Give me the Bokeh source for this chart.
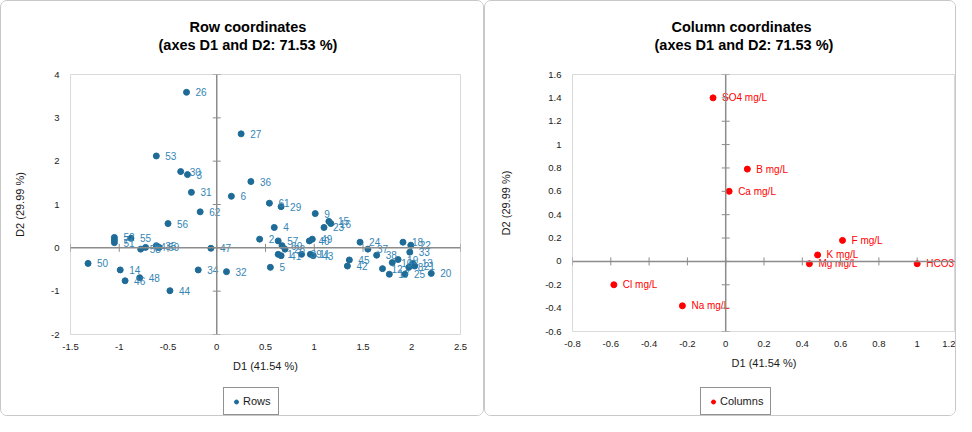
import numpy as np
from bokeh.plotting import figure
from bokeh.layouts import row, column
from bokeh.models import Range1d, FixedTicker, Span, Legend, LegendItem, Title, ColumnDataSource
from bokeh.core.properties import value
from bokeh.embed import file_html
from bokeh.resources import INLINE

# ---------------- data ----------------
row_labels = ["26", "27", "53", "30", "3", "36", "31", "6", "62", "61", "29", "9", "15", "16", "23", "4", "56",
              "52", "7", "51", "55", "58", "54", "35", "59", "47", "50", "14", "46", "48", "44", "34", "32", "5",
              "2", "57", "60", "28", "1", "41", "39", "40", "49", "11", "43",
              "24", "37", "45", "42", "38", "12", "17", "10", "19", "18", "22", "33", "13", "21", "8", "25", "20"]
row_d1 = [-0.31, 0.25, -0.62, -0.37, -0.30, 0.35, -0.26, 0.15, -0.17, 0.54, 0.66, 1.01, 1.15, 1.17, 1.10, 0.59, -0.50,
          -1.05, -1.05, -1.05, -0.88, -0.78, -0.73, -0.62, -0.59, -0.06, -1.32, -0.99, -0.94, -0.79, -0.48, -0.19, 0.10, 0.55,
          0.44, 0.63, 0.67, 0.70, 0.63, 0.66, 0.87, 0.95, 0.98, 0.96, 0.99,
          1.47, 1.55, 1.36, 1.34, 1.64, 1.70, 1.77, 1.80, 1.86, 1.91, 1.99, 1.98, 2.01, 2.03, 1.97, 1.93, 2.20]
row_d2 = [3.59, 2.63, 2.12, 1.76, 1.69, 1.53, 1.28, 1.19, 0.83, 1.03, 0.95, 0.79, 0.61, 0.56, 0.47, 0.47, 0.56,
          0.24, 0.18, 0.12, 0.22, -0.03, 0.01, 0.05, 0.01, -0.01, -0.36, -0.51, -0.76, -0.69, -0.99, -0.51, -0.55, -0.45,
          0.20, 0.16, 0.05, -0.03, -0.15, -0.18, -0.15, 0.16, 0.20, -0.15, -0.18,
          0.13, -0.03, -0.28, -0.42, -0.17, -0.48, -0.61, -0.34, -0.27, 0.13, 0.06, -0.10, -0.36, -0.42, -0.45, -0.61, -0.59]

col_labels = ["SO4 mg/L", "B mg/L", "Ca mg/L", "F mg/L", "K mg/L", "Mg mg/L", "HCO3 mg/L", "Cl mg/L", "Na mg/L"]
col_d1 = [-0.066, 0.113, 0.018, 0.61, 0.48, 0.437, 1.0, -0.584, -0.226]
col_d2 = [1.40, 0.79, 0.60, 0.18, 0.055, -0.02, -0.02, -0.20, -0.38]

row_xticks = [-1.5, -1, -0.5, 0, 0.5, 1, 1.5, 2, 2.5]
row_xtick_labels = ["-1.5", "-1", "-0.5", "0", "0.5", "1", "1.5", "2", "2.5"]
row_yticks = [-2, -1, 0, 1, 2, 3, 4]
row_ytick_labels = ["-2", "-1", "0", "1", "2", "3", "4"]

col_xticks = [-0.8, -0.6, -0.4, -0.2, 0, 0.2, 0.4, 0.6, 0.8, 1, 1.2]
col_xtick_labels = ["-0.8", "-0.6", "-0.4", "-0.2", "0", "0.2", "0.4", "0.6", "0.8", "1", "1.2"]
col_yticks = [-0.6, -0.4, -0.2, 0, 0.2, 0.4, 0.6, 0.8, 1, 1.2, 1.4, 1.6]
col_ytick_labels = ["-0.6", "-0.4", "-0.2", "0", "0.2", "0.4", "0.6", "0.8", "1", "1.2", "1.4", "1.6"]

title_main = ["Row coordinates", "Column coordinates"]
title_sub = "(axes D1 and D2: 71.53 %)"
x_title = "D1 (41.54 %)"
y_title = "D2 (29.99 %)"

FONT = "Liberation Sans"


def make_panel(main, xs, ys, labels, xticks, xlabels, yticks, ylabels, dot_color, text_color,
               legend_label, width, ml, mr, mb, off_main, off_sub, ylab_standoff, leg_x):
    p = figure(width=width, height=382,
               x_range=Range1d(xticks[0], xticks[-1]), y_range=Range1d(yticks[0], yticks[-1]),
               output_backend="svg", toolbar_location=None,
               min_border_left=ml, min_border_right=mr, min_border_top=73, min_border_bottom=mb)
    p.xgrid.visible = False
    p.ygrid.visible = False
    p.outline_line_color = "#d9d9d9"
    p.outline_line_width = 1
    p.background_fill_color = "white"
    p.border_fill_color = "white"

    # titles: spacer (closest to frame), subtitle, main title (outermost)
    p.title.text = main
    p.title.align = "left"
    p.title.offset = off_main
    p.title.text_font = FONT
    p.title.text_font_size = "14.5px"
    p.title.text_font_style = "bold"
    p.title.text_color = "black"
    p.title.standoff = 0
    spacer = Title(text=" ", align="left", text_font=FONT, text_font_size="1px", standoff=19)
    sub = Title(text=title_sub, align="left", offset=off_sub, text_font=FONT,
                text_font_size="14.5px", text_font_style="bold", text_color="black", standoff=0)
    p.add_layout(spacer, "above")
    p.add_layout(sub, "above")

    for ax, ticks, labs in ((p.xaxis[0], xticks, xlabels), (p.yaxis[0], yticks, ylabels)):
        ax.ticker = FixedTicker(ticks=ticks)
        ax.major_label_overrides = {t: l for t, l in zip(ticks, labs)}
        ax.axis_line_color = None
        ax.major_tick_line_color = None
        ax.minor_tick_line_color = None
        ax.major_tick_in = 0
        ax.major_tick_out = 0
        ax.major_label_text_font = FONT
        ax.major_label_text_font_size = "9.5px"
        ax.major_label_text_color = "#1a1a1a"
        ax.axis_label_text_font = FONT
        ax.axis_label_text_font_size = "11px"
        ax.axis_label_text_font_style = "normal"
        ax.axis_label_text_color = "#1a1a1a"
    p.xaxis.axis_label = x_title
    p.yaxis.axis_label = y_title
    p.xaxis.major_label_standoff = 9
    p.yaxis.major_label_standoff = 11
    p.xaxis.axis_label_standoff = 7
    p.yaxis.axis_label_standoff = ylab_standoff

    # zero axes with crossing ticks
    p.add_layout(Span(location=0, dimension="height", line_color="#8c8c8c", line_width=1.5))
    p.add_layout(Span(location=0, dimension="width", line_color="#8c8c8c", line_width=1.5))
    p.scatter(x=[0] * len(yticks), y=yticks, marker="dash", size=8, line_color="#8c8c8c", line_width=1)
    p.scatter(x=xticks, y=[0] * len(xticks), marker="dash", angle=1.5708, size=8,
              line_color="#8c8c8c", line_width=1)

    src = ColumnDataSource(dict(x=xs, y=ys, t=labels))
    p.scatter("x", "y", source=src, size=6, fill_color=dot_color, line_color=dot_color)
    p.text("x", "y", text="t", source=src, x_offset=9, text_baseline="middle",
           text_font=value(FONT), text_font_size="10px", text_color=text_color)

    # legend strip under the chart (its swatch renderer holds no visible point)
    lf = figure(width=width, height=32, x_range=Range1d(0, 1), y_range=Range1d(0, 1),
                output_backend="svg", toolbar_location=None,
                x_axis_location=None, y_axis_location=None,
                min_border_left=0, min_border_right=0, min_border_top=0, min_border_bottom=0)
    lf.xgrid.visible = False
    lf.ygrid.visible = False
    lf.outline_line_color = None
    lf.border_fill_color = "white"
    swatch = lf.scatter(x=np.array([np.nan]), y=np.array([np.nan]), size=6,
                        fill_color=dot_color, line_color=dot_color)
    leg = Legend(items=[LegendItem(label=legend_label, renderers=[swatch])], orientation="horizontal",
                 location=(leg_x, 0), border_line_color="#262626", border_line_width=1,
                 label_text_font=FONT, label_text_font_size="11px", label_text_color="#1a1a1a",
                 glyph_width=10, glyph_height=11, label_standoff=2, padding=7, spacing=0,
                 margin=0, background_fill_color="white")
    lf.add_layout(leg)

    col = column(p, lf, spacing=0)
    col.styles = {"border": "1px solid #c8c8c8", "border-radius": "7px", "overflow": "hidden",
                  "background-color": "white"}
    return col


c1 = make_panel(title_main[0], row_d1, row_d2, row_labels, row_xticks, row_xtick_labels,
                row_yticks, row_ytick_labels, "#1e6b97", "#3585b5", "Rows",
                482, 69, 23, 49, 119, 88, 22, 153)
c2 = make_panel(title_main[1], col_d1, col_d2, col_labels, col_xticks, col_xtick_labels,
                col_yticks, col_ytick_labels, "#ff0000", "#ff0000", "Columns",
                470, 87, 0, 52, 99, 82, 30, 128)

layout = row(c1, c2, spacing=0)
open("out.html", "w").write(file_html(layout, INLINE))
